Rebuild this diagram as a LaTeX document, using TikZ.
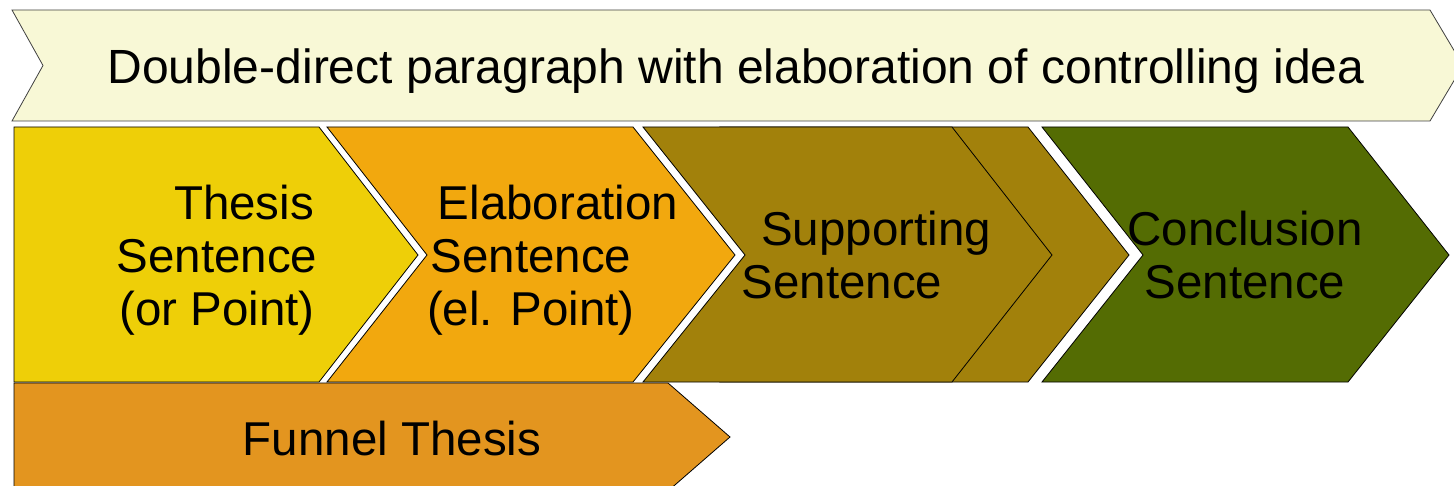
\documentclass[tikz,border=0pt]{standalone}
\usepackage{fontspec}
\setmainfont{Liberation Sans}

\definecolor{bannercol}{HTML}{F8F8D6}
\definecolor{thesiscol}{HTML}{EECF08}
\definecolor{elabcol}{HTML}{F2A80E}
\definecolor{supportcol}{HTML}{A2810B}
\definecolor{conclcol}{HTML}{546C03}
\definecolor{funnelcol}{HTML}{E3951F}

\begin{document}
\begin{tikzpicture}[x=1pt, y=-1pt,
  arrowbox/.style={draw=black, line width=0.8pt, line join=miter},
  lbl/.style={font=\fontsize{47.5}{53}\selectfont, align=center, inner sep=0pt}]

\clip (0,0) rectangle (1454,486);

% banner
\filldraw[arrowbox, draw=black!75, fill=bannercol] (12,10) -- (1430,10) -- (1463,65.5) -- (1430,121) -- (12,121) -- (43,65.5) -- cycle;

% chevrons
\filldraw[arrowbox, fill=thesiscol] (14,127) -- (319,127) -- (418,255) -- (319,382) -- (14,382) -- cycle;
\filldraw[arrowbox, fill=elabcol] (327,127) -- (633,127) -- (735,255) -- (633,382) -- (327,382) -- (427,255) -- cycle;
\filldraw[arrowbox, fill=supportcol] (720,127) -- (1028,127) -- (1129,255) -- (1028,382) -- (720,382) -- (820,255) -- cycle;
\filldraw[arrowbox, fill=supportcol] (643,127) -- (952,127) -- (1052,255) -- (952,382) -- (643,382) -- (745,255) -- cycle;
\filldraw[arrowbox, fill=conclcol] (1042,127) -- (1348,127) -- (1449,255) -- (1348,382) -- (1042,382) -- (1143,255) -- cycle;
\filldraw[arrowbox, fill=funnelcol] (14,383) -- (668,383) -- (730,437) -- (668,491) -- (14,491) -- cycle;

% labels
\node (title)[lbl, font=\fontsize{48}{53}\selectfont, anchor=base] at (736,84) {Double-direct paragraph with elaboration of controlling idea};
\node (thesis)[lbl] at (217,260) {\hspace*{54pt}Thesis\\Sentence\\(or Point)};
\node (elab)[lbl] at (531,260) {\hspace*{54pt}Elaboration\\Sentence\\(el. Point)};
\node (support)[lbl] at (842,255.5) {\hspace*{68pt}Supporting\\Sentence};
\node (concl)[lbl] at (1245,255.5) {Conclusion\\Sentence};
\node (funnel)[lbl, anchor=base] at (392,455) {Funnel Thesis};

\end{tikzpicture}
\end{document}
